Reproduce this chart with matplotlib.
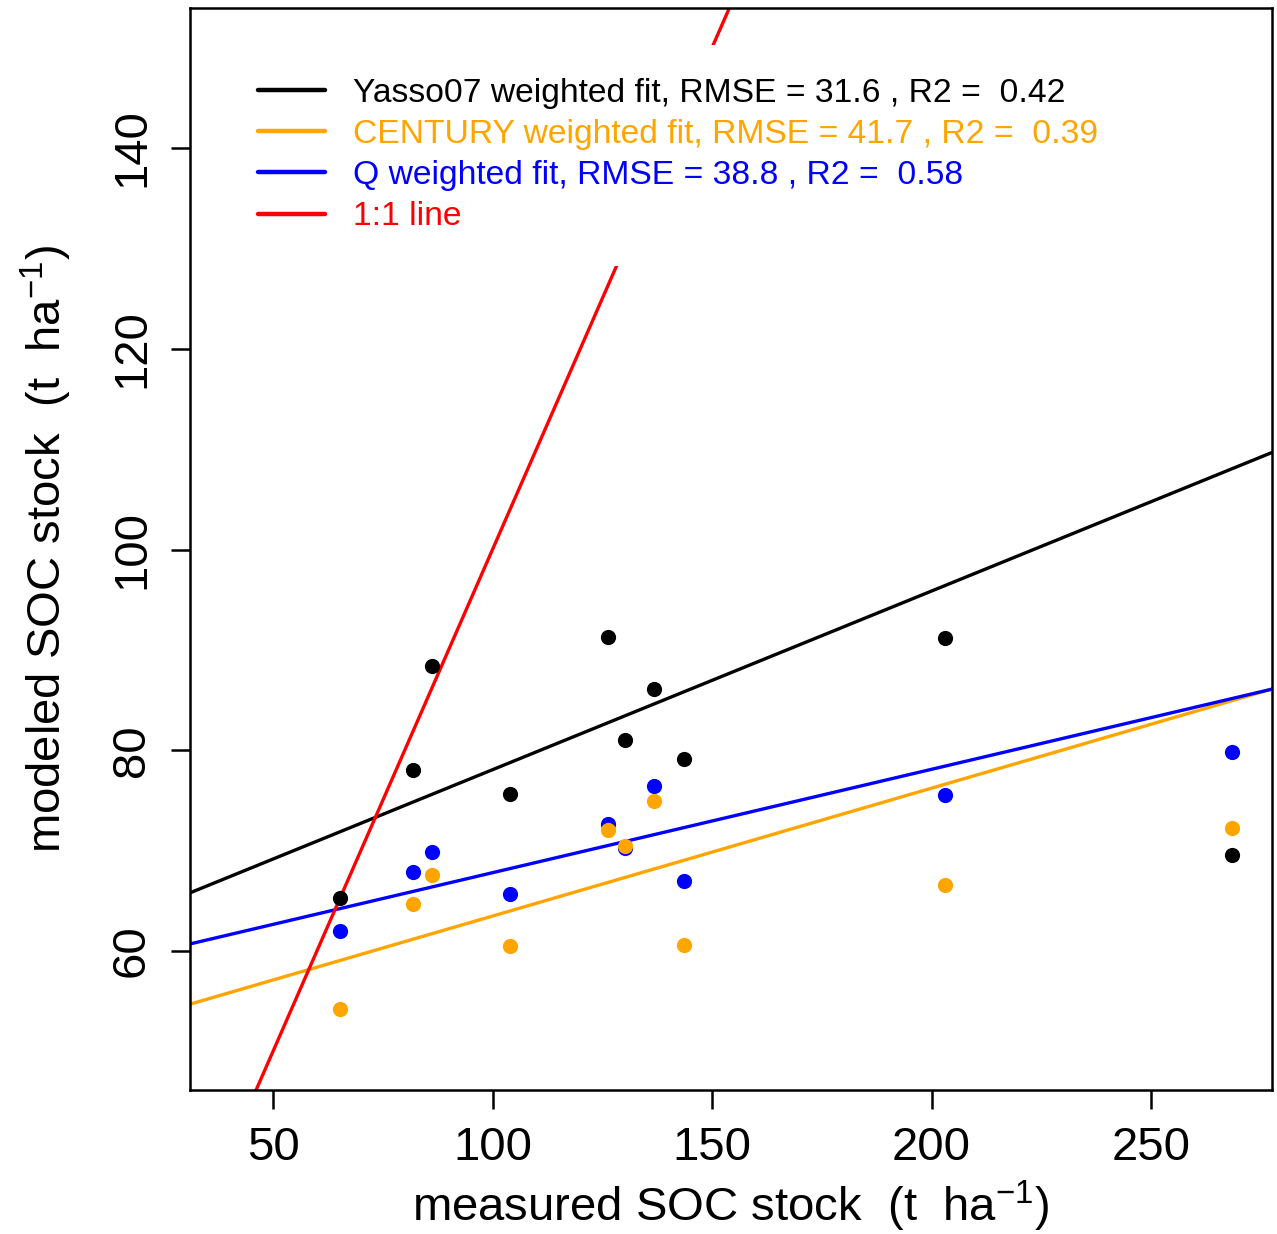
"""Measured vs modeled SOC stock, with weighted fits for three models."""

import matplotlib

matplotlib.use("Agg")
import matplotlib.pyplot as plt
import numpy as np

plt.rcParams["font.family"] = ["Liberation Sans", "DejaVu Sans"]
plt.rcParams["mathtext.fontset"] = "custom"
plt.rcParams["mathtext.rm"] = "Liberation Sans"
plt.rcParams["mathtext.it"] = "Liberation Sans"

# measured SOC stock (t/ha) at each site
measured = [65.3, 81.9, 86.2, 104.0, 126.3, 130.2, 136.8, 143.6, 203.1, 268.5]

# modeled SOC stock (t/ha) per model
yasso = [65.3, 78.0, 88.4, 75.6, 91.3, 81.0, 86.1, 79.1, 91.2, 69.6]
century = [54.2, 64.7, 67.6, 60.5, 72.1, 70.5, 74.9, 60.6, 66.6, 72.3]
q_model = [62.0, 67.9, 69.9, 65.7, 72.7, 70.3, 76.4, 67.0, 75.5, 79.8]

# weighted fit lines: (intercept, slope)
yasso_fit = (60.26, 0.178)
century_fit = (50.74, 0.1274)
q_fit = (57.5, 0.103)

labels = [
    "Yasso07 weighted fit, RMSE = 31.6 , R2 =  0.42",
    "CENTURY weighted fit, RMSE = 41.7 , R2 =  0.39",
    "Q weighted fit, RMSE = 38.8 , R2 =  0.58",
    "1:1 line",
]
ORANGE = "#FFA500"

fig = plt.figure(figsize=(12.77, 12.34), dpi=100)
ax = fig.add_axes([190 / 1277, 1 - 1090 / 1234, 1082 / 1277, 1082 / 1234])
xlim = (31.09, 277.56)
ax.set_xlim(*xlim)
ax.set_ylim(46.15, 153.95)

xs = np.array(xlim)
l1, = ax.plot(xs, yasso_fit[0] + yasso_fit[1] * xs, color="black", lw=2.4)
l2, = ax.plot(xs, century_fit[0] + century_fit[1] * xs, color=ORANGE, lw=2.4)
l3, = ax.plot(xs, q_fit[0] + q_fit[1] * xs, color="blue", lw=2.4)
l4, = ax.plot(xs, xs, color="red", lw=2.4)

ax.scatter(measured, yasso, s=120, color="black", zorder=3, linewidths=0)
ax.scatter(measured, q_model, s=120, color="blue", zorder=3, linewidths=0)
ax.scatter(measured, century, s=120, color=ORANGE, zorder=3, linewidths=0)

leg = ax.legend(
    [l1, l2, l3, l4], labels,
    loc="upper left", bbox_to_anchor=(0.0323, 0.966),
    fontsize=24.2, frameon=True, facecolor="white", edgecolor="none",
    framealpha=1, fancybox=False, handlelength=2.0, handletextpad=0.83,
    labelspacing=0.30, borderpad=0.99, borderaxespad=0,
    labelcolor=["black", ORANGE, "blue", "red"],
)
leg.set_zorder(5)
for h in leg.legend_handles:
    h.set_linewidth(3.2)
    h.set_solid_capstyle("round")

ax.set_xticks([50, 100, 150, 200, 250])
ax.set_yticks([60, 80, 100, 120, 140])
ax.tick_params(axis="both", direction="out", length=14, width=1.8,
               labelsize=34, pad=12)
for lab in ax.get_yticklabels():
    lab.set_rotation(90)
    lab.set_va("center")
for s in ax.spines.values():
    s.set_linewidth(1.8)

ax.set_xlabel(r"measured SOC stock  (t  ha$^{-1}$)", fontsize=34, labelpad=6)
ax.set_ylabel(r"modeled SOC stock  (t  ha$^{-1}$)", fontsize=34, labelpad=26)

fig.savefig("out.png", dpi=100)
